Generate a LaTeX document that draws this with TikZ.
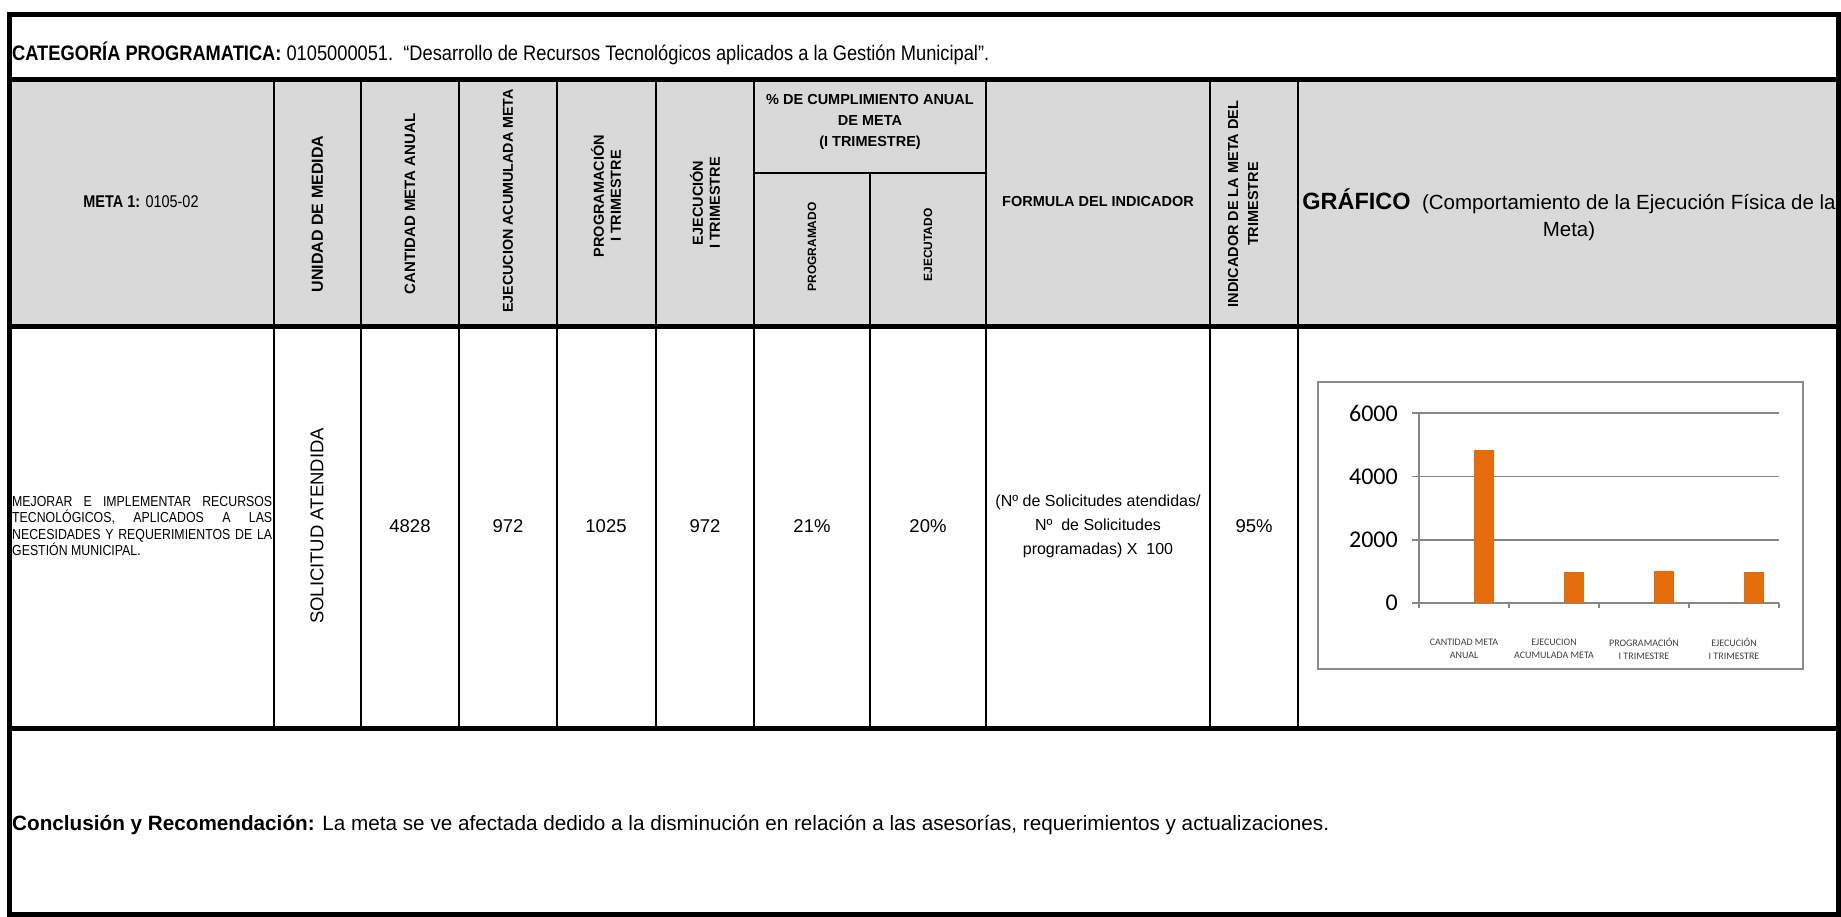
\documentclass[tikz,border=0pt]{standalone}
\usepackage{fontspec}
\setmainfont{Liberation Sans}
\newfontfamily\condf[FakeStretch=0.87]{Liberation Sans}
\newfontfamily\narrowf[FakeStretch=0.85]{Liberation Sans}
\newfontfamily\chartfont{Carlito}
\definecolor{hdrgray}{HTML}{D9D9D9}
\definecolor{barorange}{HTML}{E46C0A}
\definecolor{gridgray}{HTML}{868686}
\definecolor{framegray}{HTML}{8C8C8C}
\definecolor{labelgray}{HTML}{404040}
\begin{document}
\begin{tikzpicture}[x=1pt,y=-1pt,
  heavyline/.style={line width=5pt,black},
  cellline/.style={line width=2pt,black},
  hdrtext/.style={inner sep=0pt,align=center,font=\fontsize{15}{18}\selectfont\bfseries},
  rothdr/.style={hdrtext,rotate=90},
  valtext/.style={inner sep=0pt,align=center,font=\fontsize{18.5}{24}\selectfont},
  gridln/.style={line width=1.6pt,gridgray},
  barbox/.style={fill=barorange,draw=none},
  ylab/.style={anchor=east,inner sep=0pt,font=\chartfont\fontsize{24}{26}\selectfont},
  xlab/.style={inner sep=0pt,align=center,text=labelgray,font=\chartfont\fontsize{10}{13}\selectfont}]
\useasboundingbox (0,0) rectangle (1841,917);
% header fill
\fill[hdrgray] (9.5,79.5) rectangle (1838,326.5);
% vertical cell lines
\foreach \xx in {274,361,459,557,656,754,986,1210,1298}
  \draw[cellline] (\xx,79.5) -- (\xx,728);
\draw[cellline] (870,173) -- (870,728);
\draw[cellline] (754,173) -- (986,173);
% heavy horizontal lines
\draw[heavyline] (9.5,79.5) -- (1838,79.5);
\draw[heavyline] (9.5,326.5) -- (1838,326.5);
\draw[heavyline] (9.5,728) -- (1838,728);
\draw[heavyline] (9.5,14.5) rectangle (1838,914);

% title
\node[anchor=west,inner sep=0pt,font=\condf\fontsize{21}{24}\selectfont] (title) at (12,53)
  {\textbf{CATEGORÍA PROGRAMATICA:} 0105000051.\ \ “Desarrollo de Recursos Tecnológicos aplicados a la Gestión Municipal”.};

% header row
\node[inner sep=0pt,font=\narrowf\fontsize{17}{20}\selectfont] (meta) at (141,202) {\textbf{META 1:} 0105-02};
\node[rothdr,font=\fontsize{16}{18}\selectfont\bfseries] (hunidad) at (317.5,214) {UNIDAD DE MEDIDA};
\node[rothdr] (hcant) at (410,204) {CANTIDAD META ANUAL};
\node[rothdr,font=\fontsize{14.3}{17}\selectfont\bfseries] (hejac) at (508,201) {EJECUCION ACUMULADA META};
\node[rothdr,font=\fontsize{14.5}{17}\selectfont\bfseries] (hprog) at (606,196) {PROGRAMACIÓN\\I TRIMESTRE};
\node[rothdr,font=\fontsize{14.5}{17}\selectfont\bfseries] (hejec) at (705,203) {EJECUCIÓN\\I TRIMESTRE};
\node[hdrtext,font=\fontsize{14.5}{21}\selectfont\bfseries] (hpct) at (870,122) {\% DE CUMPLIMIENTO ANUAL\\DE META\\(I TRIMESTRE)};
\node[rothdr,font=\fontsize{12}{14}\selectfont\bfseries] (hprogd) at (812,247) {PROGRAMADO};
\node[rothdr,font=\fontsize{12}{14}\selectfont\bfseries] (hejecd) at (928,245) {EJECUTADO};
\node[hdrtext,font=\fontsize{14.5}{17}\selectfont\bfseries] (hform) at (1098,202) {FORMULA DEL INDICADOR};
\node[rothdr,font=\fontsize{14.5}{20}\selectfont\bfseries] (hind) at (1243,204) {INDICADOR DE LA META DEL\\TRIMESTRE};
\node[inner sep=0pt,align=center,font=\fontsize{20.5}{27}\selectfont] (hgraf) at (1569,215)
  {{\fontsize{23.5}{27}\selectfont\bfseries GRÁFICO}\ \ (Comportamiento de la Ejecución Física de la\\Meta)};

% body row
\node[anchor=west,inner sep=0pt,text width=260pt,align=justify,font=\narrowf\fontsize{14.5}{16.5}\selectfont] (desc) at (12,526)
  {MEJORAR E IMPLEMENTAR RECURSOS\linebreak TECNOLÓGICOS, APLICADOS A LAS\linebreak NECESIDADES Y REQUERIMIENTOS DE LA\linebreak GESTIÓN MUNICIPAL.};
\node[valtext,rotate=90] (vunidad) at (317,526) {SOLICITUD ATENDIDA};
\node[valtext] (vcant) at (410,526) {4828};
\node[valtext] (vejac) at (508,526) {972};
\node[valtext] (vprog) at (606,526) {1025};
\node[valtext] (vejec) at (705,526) {972};
\node[valtext] (vprogd) at (812,526) {21\%};
\node[valtext] (vejecd) at (928,526) {20\%};
\node[valtext,font=\fontsize{16}{24}\selectfont] (vform) at (1098,526)
  {(Nº de Solicitudes atendidas/\\Nº\ \ de Solicitudes\\programadas) X\ \ 100};
\node[valtext] (vind) at (1254,526) {95\%};

% chart
\draw[framegray,line width=2pt] (1318,382) rectangle (1803,669);
\foreach \yy/\lab in {413/6000,476.3/4000,539.7/2000,603/0}{
  \draw[gridln] (1412,\yy) -- (1779,\yy);
  \node[ylab] at (1398,\yy) {\lab};
}
\draw[gridln] (1419,413) -- (1419,608);
\foreach \k in {1,2,3,4}
  \draw[gridln] (1419+90*\k,603) -- (1419+90*\k,608);
\fill[barbox] (1474,603) rectangle (1494,450.1);
\fill[barbox] (1564,603) rectangle (1584,572.2);
\fill[barbox] (1654,603) rectangle (1674,570.5);
\fill[barbox] (1744,603) rectangle (1764,572.2);
\node[xlab] (xl1) at (1464,649) {CANTIDAD META\\ANUAL};
\node[xlab] (xl2) at (1554,649) {EJECUCION\\ACUMULADA META};
\node[xlab] (xl3) at (1644,649) {PROGRAMACIÓN\\I TRIMESTRE};
\node[xlab] (xl4) at (1734,649) {EJECUCIÓN\\I TRIMESTRE};

% conclusion
\node[anchor=west,inner sep=0pt,font=\fontsize{20.7}{24}\selectfont] (concl) at (12,825)
  {\textbf{Conclusión y Recomendación:} La meta se ve afectada dedido a la disminución en relación a las asesorías, requerimientos y actualizaciones.};
\end{tikzpicture}
\end{document}
